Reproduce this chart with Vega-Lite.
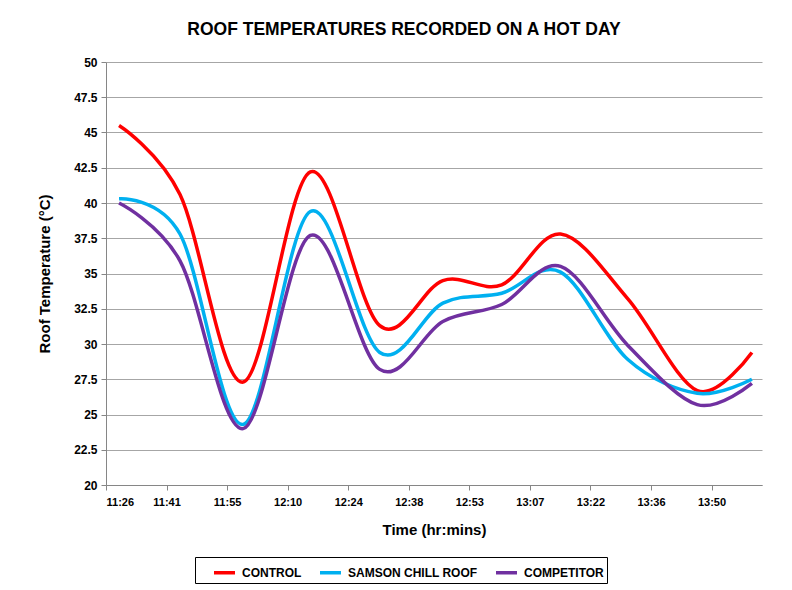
{
  "$schema": "https://vega.github.io/schema/vega-lite/v6.json",
  "autosize": {"type": "none"},
  "padding": {"left": 106, "top": 62, "right": 30, "bottom": 105},
  "width": 656,
  "height": 423,
  "background": "white",
  "title": {
    "text": "ROOF TEMPERATURES RECORDED ON A HOT DAY",
    "font": "Liberation Sans",
    "fontSize": 17.5,
    "fontWeight": "bold",
    "color": "#000000",
    "anchor": "middle",
    "dx": -30,
    "offset": 18
  },
  "config": {
    "view": {"stroke": null},
    "font": "Liberation Sans"
  },
  "data": {
    "values": [
      {"time": "2024-01-01T11:29:30", "series": "CONTROL", "temp": 45.5},
      {"time": "2024-01-01T11:44:00", "series": "CONTROL", "temp": 40.6},
      {"time": "2024-01-01T11:59:00", "series": "CONTROL", "temp": 27.3},
      {"time": "2024-01-01T12:15:00", "series": "CONTROL", "temp": 42.2},
      {"time": "2024-01-01T12:31:30", "series": "CONTROL", "temp": 31.3},
      {"time": "2024-01-01T12:46:30", "series": "CONTROL", "temp": 34.5},
      {"time": "2024-01-01T13:00:30", "series": "CONTROL", "temp": 34.2},
      {"time": "2024-01-01T13:14:30", "series": "CONTROL", "temp": 37.8},
      {"time": "2024-01-01T13:30:30", "series": "CONTROL", "temp": 33.2},
      {"time": "2024-01-01T13:47:00", "series": "CONTROL", "temp": 26.7},
      {"time": "2024-01-01T14:00:00", "series": "CONTROL", "temp": 29.4},
      {"time": "2024-01-01T11:29:30", "series": "SAMSON CHILL ROOF", "temp": 40.3},
      {"time": "2024-01-01T11:44:00", "series": "SAMSON CHILL ROOF", "temp": 37.8},
      {"time": "2024-01-01T11:59:00", "series": "SAMSON CHILL ROOF", "temp": 24.3},
      {"time": "2024-01-01T12:15:00", "series": "SAMSON CHILL ROOF", "temp": 39.4},
      {"time": "2024-01-01T12:31:30", "series": "SAMSON CHILL ROOF", "temp": 29.4},
      {"time": "2024-01-01T12:46:30", "series": "SAMSON CHILL ROOF", "temp": 32.9},
      {"time": "2024-01-01T13:00:30", "series": "SAMSON CHILL ROOF", "temp": 33.6},
      {"time": "2024-01-01T13:14:30", "series": "SAMSON CHILL ROOF", "temp": 35.1},
      {"time": "2024-01-01T13:30:30", "series": "SAMSON CHILL ROOF", "temp": 28.9},
      {"time": "2024-01-01T13:47:00", "series": "SAMSON CHILL ROOF", "temp": 26.5},
      {"time": "2024-01-01T14:00:00", "series": "SAMSON CHILL ROOF", "temp": 27.5},
      {"time": "2024-01-01T11:29:30", "series": "COMPETITOR", "temp": 40.0},
      {"time": "2024-01-01T11:44:00", "series": "COMPETITOR", "temp": 35.9},
      {"time": "2024-01-01T11:59:00", "series": "COMPETITOR", "temp": 24.0},
      {"time": "2024-01-01T12:15:00", "series": "COMPETITOR", "temp": 37.7},
      {"time": "2024-01-01T12:31:30", "series": "COMPETITOR", "temp": 28.2},
      {"time": "2024-01-01T12:46:30", "series": "COMPETITOR", "temp": 31.6},
      {"time": "2024-01-01T13:00:30", "series": "COMPETITOR", "temp": 32.8},
      {"time": "2024-01-01T13:14:30", "series": "COMPETITOR", "temp": 35.5},
      {"time": "2024-01-01T13:30:30", "series": "COMPETITOR", "temp": 29.9},
      {"time": "2024-01-01T13:47:00", "series": "COMPETITOR", "temp": 25.7},
      {"time": "2024-01-01T14:00:00", "series": "COMPETITOR", "temp": 27.2}
    ]
  },
  "mark": {"type": "line", "interpolate": "cardinal", "strokeWidth": 3.5},
  "encoding": {
    "x": {
      "field": "time",
      "type": "temporal",
      "scale": {
        "domain": [
          {"year": 2024, "month": 1, "date": 1, "hours": 11, "minutes": 26, "seconds": 24},
          {"year": 2024, "month": 1, "date": 1, "hours": 14, "minutes": 2, "seconds": 24}
        ]
      },
      "axis": {
        "values": [
          {"year": 2024, "month": 1, "date": 1, "hours": 11, "minutes": 26, "seconds": 24},
          {"year": 2024, "month": 1, "date": 1, "hours": 11, "minutes": 40, "seconds": 48},
          {"year": 2024, "month": 1, "date": 1, "hours": 11, "minutes": 55, "seconds": 12},
          {"year": 2024, "month": 1, "date": 1, "hours": 12, "minutes": 9, "seconds": 36},
          {"year": 2024, "month": 1, "date": 1, "hours": 12, "minutes": 24, "seconds": 0},
          {"year": 2024, "month": 1, "date": 1, "hours": 12, "minutes": 38, "seconds": 24},
          {"year": 2024, "month": 1, "date": 1, "hours": 12, "minutes": 52, "seconds": 48},
          {"year": 2024, "month": 1, "date": 1, "hours": 13, "minutes": 7, "seconds": 12},
          {"year": 2024, "month": 1, "date": 1, "hours": 13, "minutes": 21, "seconds": 36},
          {"year": 2024, "month": 1, "date": 1, "hours": 13, "minutes": 36, "seconds": 0},
          {"year": 2024, "month": 1, "date": 1, "hours": 13, "minutes": 50, "seconds": 24}
        ],
        "labelExpr": "timeFormat(toDate(toNumber(datum.value) + 30000), '%H:%M')",
        "grid": false,
        "domainColor": "#868686",
        "tickColor": "#868686",
        "tickSize": 5,
        "labelFont": "Liberation Sans",
        "labelFontSize": 11,
        "labelFontWeight": "bold",
        "labelColor": "#000000",
        "labelPadding": 6,
        "labelOverlap": false,
        "title": "Time (hr:mins)",
        "titleFont": "Liberation Sans",
        "titleFontSize": 15,
        "titleFontWeight": "bold",
        "titleColor": "#000000",
        "titlePadding": 15
      }
    },
    "y": {
      "field": "temp",
      "type": "quantitative",
      "scale": {"domain": [20, 50], "nice": false, "zero": false},
      "axis": {
        "values": [20, 22.5, 25, 27.5, 30, 32.5, 35, 37.5, 40, 42.5, 45, 47.5, 50],
        "format": ".1~f",
        "grid": true,
        "gridColor": "#a6a6a6",
        "gridWidth": 1,
        "domainColor": "#868686",
        "tickColor": "#868686",
        "tickSize": 5,
        "labelFont": "Liberation Sans",
        "labelFontSize": 12,
        "labelFontWeight": "bold",
        "labelColor": "#000000",
        "labelPadding": 4,
        "title": "Roof Temperature (°C)",
        "titleFont": "Liberation Sans",
        "titleFontSize": 15,
        "titleFontWeight": "bold",
        "titleColor": "#000000",
        "titlePadding": 21
      }
    },
    "color": {
      "field": "series",
      "type": "nominal",
      "scale": {
        "domain": ["CONTROL", "SAMSON CHILL ROOF", "COMPETITOR"],
        "range": ["#FF0000", "#00B0F0", "#7030A0"]
      },
      "legend": {
        "title": null,
        "orient": "none",
        "legendX": 89,
        "legendY": 495,
        "direction": "horizontal",
        "strokeColor": "#000000",
        "padding": 3,
        "symbolType": "stroke",
        "symbolStrokeWidth": 3.5,
        "symbolSize": 441,
        "symbolOffset": 14,
        "labelFont": "Liberation Sans",
        "labelFontSize": 12,
        "labelFontWeight": "bold",
        "labelColor": "#000000",
        "labelOffset": 5,
        "columnPadding": 2
      }
    }
  }
}
